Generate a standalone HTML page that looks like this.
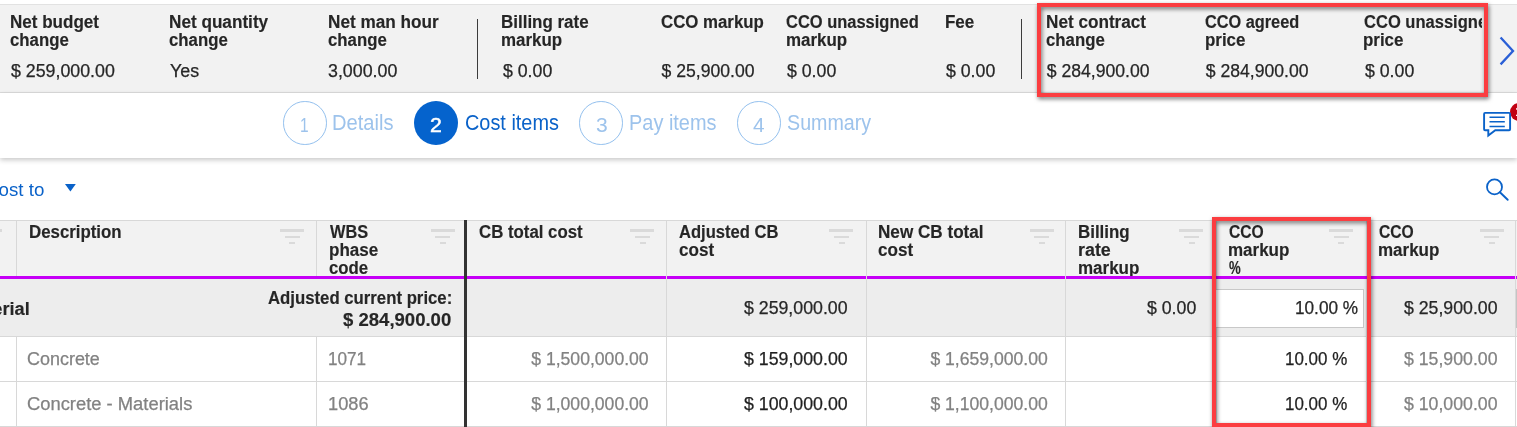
<!DOCTYPE html>
<html lang="en"><head><meta charset="utf-8"><title>Cost items</title>
<style>
html,body{margin:0;padding:0;background:#fff}
body{position:relative;width:1517px;height:427px;overflow:hidden;font-family:"Liberation Sans",Arial,sans-serif}
.t{position:absolute;white-space:nowrap;transform-origin:0 50%;display:block}
.a{position:absolute}
.f{position:absolute;height:3px;background:#dadada}
.cs{position:absolute;top:221px;width:1px;height:206px;background:#d8d8d8}
.hl{position:absolute;left:0;width:1517px;height:1px;background:#d8d8d8}
.red{position:absolute;border:4px solid #fb3d40;box-sizing:border-box;filter:drop-shadow(1.2px 2.4px 2.2px rgba(0,0,0,.55))}
</style></head><body>
<!-- summary panel -->
<div class="a" style="left:0;top:4px;width:1517px;height:89px;background:#f2f2f2;border-top:1px solid #e2e2e2;border-bottom:1px solid #dcdcdc;box-sizing:border-box"></div>
<div class="a" style="left:477px;top:19px;width:1px;height:59.5px;background:#3c3c3c"></div>
<div class="a" style="left:1021px;top:19px;width:1px;height:59.5px;background:#3c3c3c"></div>
<!-- stepper -->
<div class="a" style="left:0;top:93px;width:1517px;height:64.7px;background:#fff;box-shadow:0 2px 5px rgba(0,0,0,.22)"></div>
<div class="a" style="left:283.1px;top:101px;width:43.6px;height:43.6px;border-radius:50%;border:1px solid #93c0ee;box-sizing:border-box"></div>
<div class="a" style="left:414px;top:101px;width:43.8px;height:43.8px;border-radius:50%;background:#0563cd"></div>
<div class="a" style="left:579.1px;top:101px;width:43.6px;height:43.6px;border-radius:50%;border:1px solid #93c0ee;box-sizing:border-box"></div>
<div class="a" style="left:737px;top:101px;width:43.6px;height:43.6px;border-radius:50%;border:1px solid #93c0ee;box-sizing:border-box"></div>
<!-- chat icon -->
<div class="a" style="left:1509.9px;top:102.6px;width:18px;height:18px;border-radius:50%;background:#c20012"></div>
<span class="t" style="left:1515.2px;top:105px;font-size:12px;line-height:14px;color:#fff;font-weight:700">1</span>
<svg class="a" style="left:1480px;top:107.2px" width="37" height="34" viewBox="0 0 37 34">
<path d="M5.1 5.9H29.1a1 1 0 0 1 1 1V22.3a1 1 0 0 1 -1 1H15.3L8.3 28.6V23.3H5.1a1 1 0 0 1 -1 -1V6.9a1 1 0 0 1 1 -1z" fill="none" stroke="#0a62c9" stroke-width="1.9" stroke-linejoin="miter"/>
<path d="M9.5 10.2h15.3M9.5 14.8h15.3M9.5 19.5h15.3" stroke="#0a62c9" stroke-width="1.6"/>
</svg>
<!-- toolbar -->
<svg class="a" style="left:64px;top:183px" width="14" height="10" viewBox="0 0 14 10"><path d="M1 1h10.8L6.4 8.6z" fill="#0a62c9"/></svg>
<svg class="a" style="left:1482px;top:175.4px" width="30" height="28" viewBox="0 0 30 28"><circle cx="12.5" cy="11.9" r="7.5" fill="none" stroke="#0a62c9" stroke-width="1.8"/><path d="M17.9 17.3L25.7 24.8" stroke="#0a62c9" stroke-width="1.9" stroke-linecap="round" fill="none"/></svg>
<!-- table -->
<div class="a" style="left:0;top:220px;width:1517px;height:56px;background:#f2f2f2;border-top:1px solid #d8d8d8;box-sizing:border-box"></div>
<div class="a" style="left:0;top:278px;width:1517px;height:58px;background:#ededed"></div>
<div class="cs" style="left:666px"></div><div class="cs" style="left:866px"></div><div class="cs" style="left:1065px"></div><div class="cs" style="left:1216px"></div><div class="cs" style="left:1366px"></div><div class="cs" style="left:1515px"></div><div class="cs" style="left:16px;height:55px"></div><div class="cs" style="left:16px;top:337px;height:90px"></div><div class="cs" style="left:316px;height:55px"></div><div class="cs" style="left:316px;top:337px;height:90px"></div>
<div class="hl" style="top:336px"></div>
<div class="hl" style="top:381px"></div>
<div class="hl" style="top:426px"></div>
<div class="f" style="left:-21.7px;top:229.3px;width:24px;height:3.1px"></div><div class="f" style="left:-17.3px;top:235.5px;width:15.3px;height:2.8px"></div><div class="f" style="left:-12.6px;top:241.6px;width:6.1px;height:2.6px"></div><div class="f" style="left:280.3px;top:229.3px;width:24px;height:3.1px"></div><div class="f" style="left:284.7px;top:235.5px;width:15.3px;height:2.8px"></div><div class="f" style="left:289.4px;top:241.6px;width:6.1px;height:2.6px"></div><div class="f" style="left:430.6px;top:229.3px;width:24px;height:3.1px"></div><div class="f" style="left:435.0px;top:235.5px;width:15.3px;height:2.8px"></div><div class="f" style="left:439.7px;top:241.6px;width:6.1px;height:2.6px"></div><div class="f" style="left:630.4px;top:229.3px;width:24px;height:3.1px"></div><div class="f" style="left:634.8px;top:235.5px;width:15.3px;height:2.8px"></div><div class="f" style="left:639.5px;top:241.6px;width:6.1px;height:2.6px"></div><div class="f" style="left:829.4px;top:229.3px;width:24px;height:3.1px"></div><div class="f" style="left:833.8px;top:235.5px;width:15.3px;height:2.8px"></div><div class="f" style="left:838.5px;top:241.6px;width:6.1px;height:2.6px"></div><div class="f" style="left:1029.8px;top:229.3px;width:24px;height:3.1px"></div><div class="f" style="left:1034.2px;top:235.5px;width:15.3px;height:2.8px"></div><div class="f" style="left:1038.9px;top:241.6px;width:6.1px;height:2.6px"></div><div class="f" style="left:1179.4px;top:229.3px;width:24px;height:3.1px"></div><div class="f" style="left:1183.8px;top:235.5px;width:15.3px;height:2.8px"></div><div class="f" style="left:1188.5px;top:241.6px;width:6.1px;height:2.6px"></div><div class="f" style="left:1329.2px;top:229.3px;width:24px;height:3.1px"></div><div class="f" style="left:1333.6px;top:235.5px;width:15.3px;height:2.8px"></div><div class="f" style="left:1338.3px;top:241.6px;width:6.1px;height:2.6px"></div><div class="f" style="left:1479.8px;top:229.3px;width:24px;height:3.1px"></div><div class="f" style="left:1484.2px;top:235.5px;width:15.3px;height:2.8px"></div><div class="f" style="left:1488.9px;top:241.6px;width:6.1px;height:2.6px"></div>
<!-- group-row input -->
<div class="a" style="left:1215px;top:289px;width:149.4px;height:38.5px;background:#fff;border:1px solid #c8c8c8;box-sizing:border-box"></div>
<div class="a" style="left:1516px;top:289px;width:3px;height:38.5px;background:#fff;border:1px solid #c4c4c4;box-sizing:border-box"></div>
<div class="a" id="hdrclip" style="left:0;top:221px;width:1517px;height:54.6px;overflow:hidden"></div>
<div class="a" style="left:0;top:0;width:1482px;height:93px;overflow:hidden"><span class="t " style="left:9.89px;top:11.70px;font-size:17.6px;line-height:21px;color:#262626;font-weight:700;-webkit-text-stroke:0.15px #262626;transform:scaleX(0.9680);">Net budget</span><span class="t " style="left:10.37px;top:29.50px;font-size:17.6px;line-height:21px;color:#262626;font-weight:700;-webkit-text-stroke:0.15px #262626;transform:scaleX(0.9541);">change</span><span class="t " style="left:11.12px;top:60.50px;font-size:17.6px;line-height:21px;color:#262626;-webkit-text-stroke:0.25px #262626;transform:scaleX(1.0108);">$ 259,000.00</span><span class="t " style="left:168.98px;top:11.70px;font-size:17.6px;line-height:21px;color:#262626;font-weight:700;-webkit-text-stroke:0.15px #262626;transform:scaleX(0.9752);">Net quantity</span><span class="t " style="left:169.47px;top:29.50px;font-size:17.6px;line-height:21px;color:#262626;font-weight:700;-webkit-text-stroke:0.15px #262626;transform:scaleX(0.9541);">change</span><span class="t " style="left:170.04px;top:60.50px;font-size:17.6px;line-height:21px;color:#262626;-webkit-text-stroke:0.25px #262626;transform:scaleX(1.0157);">Yes</span><span class="t " style="left:327.68px;top:11.70px;font-size:17.6px;line-height:21px;color:#262626;font-weight:700;-webkit-text-stroke:0.15px #262626;transform:scaleX(0.9757);">Net man hour</span><span class="t " style="left:328.17px;top:29.50px;font-size:17.6px;line-height:21px;color:#262626;font-weight:700;-webkit-text-stroke:0.15px #262626;transform:scaleX(0.9541);">change</span><span class="t " style="left:328.43px;top:60.50px;font-size:17.6px;line-height:21px;color:#262626;-webkit-text-stroke:0.25px #262626;transform:scaleX(1.0121);">3,000.00</span><span class="t " style="left:501.40px;top:11.70px;font-size:17.6px;line-height:21px;color:#262626;font-weight:700;-webkit-text-stroke:0.15px #262626;transform:scaleX(0.9638);">Billing rate</span><span class="t " style="left:501.40px;top:29.50px;font-size:17.6px;line-height:21px;color:#262626;font-weight:700;-webkit-text-stroke:0.15px #262626;transform:scaleX(0.9622);">markup</span><span class="t " style="left:502.62px;top:60.50px;font-size:17.6px;line-height:21px;color:#262626;-webkit-text-stroke:0.25px #262626;transform:scaleX(1.0064);">$ 0.00</span><span class="t " style="left:660.83px;top:11.70px;font-size:17.6px;line-height:21px;color:#262626;font-weight:700;-webkit-text-stroke:0.15px #262626;transform:scaleX(0.9560);">CCO markup</span><span class="t " style="left:661.62px;top:60.50px;font-size:17.6px;line-height:21px;color:#262626;-webkit-text-stroke:0.25px #262626;">$ 25,900.00</span><span class="t " style="left:786.14px;top:11.70px;font-size:17.6px;line-height:21px;color:#262626;font-weight:700;-webkit-text-stroke:0.15px #262626;transform:scaleX(0.9362);">CCO unassigned</span><span class="t " style="left:785.70px;top:29.50px;font-size:17.6px;line-height:21px;color:#262626;font-weight:700;-webkit-text-stroke:0.15px #262626;transform:scaleX(0.9622);">markup</span><span class="t " style="left:786.92px;top:60.50px;font-size:17.6px;line-height:21px;color:#262626;-webkit-text-stroke:0.25px #262626;transform:scaleX(1.0064);">$ 0.00</span><span class="t " style="left:944.80px;top:11.70px;font-size:17.6px;line-height:21px;color:#262626;font-weight:700;-webkit-text-stroke:0.15px #262626;transform:scaleX(0.9650);">Fee</span><span class="t " style="left:946.02px;top:60.50px;font-size:17.6px;line-height:21px;color:#262626;-webkit-text-stroke:0.25px #262626;transform:scaleX(1.0064);">$ 0.00</span><span class="t " style="left:1045.59px;top:11.70px;font-size:17.6px;line-height:21px;color:#262626;font-weight:700;-webkit-text-stroke:0.15px #262626;transform:scaleX(0.9746);">Net contract</span><span class="t " style="left:1046.07px;top:29.50px;font-size:17.6px;line-height:21px;color:#262626;font-weight:700;-webkit-text-stroke:0.15px #262626;transform:scaleX(0.9541);">change</span><span class="t " style="left:1046.82px;top:60.50px;font-size:17.6px;line-height:21px;color:#262626;-webkit-text-stroke:0.25px #262626;">$ 284,900.00</span><span class="t " style="left:1204.95px;top:11.70px;font-size:17.6px;line-height:21px;color:#262626;font-weight:700;-webkit-text-stroke:0.15px #262626;transform:scaleX(0.9265);">CCO agreed</span><span class="t " style="left:1204.50px;top:29.50px;font-size:17.6px;line-height:21px;color:#262626;font-weight:700;-webkit-text-stroke:0.15px #262626;transform:scaleX(0.9616);">price</span><span class="t " style="left:1205.72px;top:60.50px;font-size:17.6px;line-height:21px;color:#262626;-webkit-text-stroke:0.25px #262626;">$ 284,900.00</span><span class="t " style="left:1363.84px;top:11.70px;font-size:17.6px;line-height:21px;color:#262626;font-weight:700;-webkit-text-stroke:0.15px #262626;transform:scaleX(0.9398);">CCO unassigned</span><span class="t " style="left:1363.40px;top:29.50px;font-size:17.6px;line-height:21px;color:#262626;font-weight:700;-webkit-text-stroke:0.15px #262626;transform:scaleX(0.9616);">price</span><span class="t " style="left:1364.62px;top:60.50px;font-size:17.6px;line-height:21px;color:#262626;-webkit-text-stroke:0.25px #262626;transform:scaleX(1.0064);">$ 0.00</span></div><span class="t " style="left:299.74px;top:113.27px;font-size:20px;line-height:24px;color:#9dc3ec;transform:scaleX(0.7746);">1</span><span class="t " style="left:331.59px;top:109.75px;font-size:21.5px;line-height:26px;color:#9dc3ec;transform:scaleX(0.9358);">Details</span><span class="t " style="left:430.44px;top:113.27px;font-size:20px;line-height:24px;color:#fff;-webkit-text-stroke:0.5px #fff;transform:scaleX(1.0601);">2</span><span class="t " style="left:464.61px;top:109.75px;font-size:21.5px;line-height:26px;color:#0a62c9;transform:scaleX(0.9247);">Cost items</span><span class="t " style="left:595.81px;top:113.27px;font-size:20px;line-height:24px;color:#9dc3ec;transform:scaleX(1.0526);">3</span><span class="t " style="left:628.61px;top:109.75px;font-size:21.5px;line-height:26px;color:#9dc3ec;transform:scaleX(0.9270);">Pay items</span><span class="t " style="left:753.03px;top:113.27px;font-size:20px;line-height:24px;color:#9dc3ec;transform:scaleX(1.0396);">4</span><span class="t " style="left:786.71px;top:109.75px;font-size:21.5px;line-height:26px;color:#9dc3ec;transform:scaleX(0.9154);">Summary</span><span class="t " style="left:-14.54px;top:179.19px;font-size:18.5px;line-height:22px;color:#0a62c9;transform:scaleX(1.0117);">Cost to</span><span class="t h" style="left:28.71px;top:222.10px;font-size:17.6px;line-height:21px;color:#262626;font-weight:700;-webkit-text-stroke:0.15px #262626;transform:scaleX(0.9567);">Description</span><span class="t h" style="left:329.90px;top:222.10px;font-size:17.6px;line-height:21px;color:#262626;font-weight:700;-webkit-text-stroke:0.15px #262626;transform:scaleX(0.9284);">WBS</span><span class="t h" style="left:328.79px;top:240.10px;font-size:17.6px;line-height:21px;color:#262626;font-weight:700;-webkit-text-stroke:0.15px #262626;transform:scaleX(0.9665);">phase</span><span class="t h" style="left:329.27px;top:258.10px;font-size:17.6px;line-height:21px;color:#262626;font-weight:700;-webkit-text-stroke:0.15px #262626;transform:scaleX(0.9543);">code</span><span class="t h" style="left:479.13px;top:222.10px;font-size:17.6px;line-height:21px;color:#262626;font-weight:700;-webkit-text-stroke:0.15px #262626;transform:scaleX(0.9548);">CB total cost</span><span class="t h" style="left:679.39px;top:222.10px;font-size:17.6px;line-height:21px;color:#262626;font-weight:700;-webkit-text-stroke:0.15px #262626;transform:scaleX(0.9419);">Adjusted CB</span><span class="t h" style="left:679.16px;top:240.10px;font-size:17.6px;line-height:21px;color:#262626;font-weight:700;-webkit-text-stroke:0.15px #262626;transform:scaleX(0.9708);">cost</span><span class="t h" style="left:877.99px;top:222.10px;font-size:17.6px;line-height:21px;color:#262626;font-weight:700;-webkit-text-stroke:0.15px #262626;transform:scaleX(0.9729);">New CB total</span><span class="t h" style="left:878.46px;top:240.10px;font-size:17.6px;line-height:21px;color:#262626;font-weight:700;-webkit-text-stroke:0.15px #262626;transform:scaleX(0.9708);">cost</span><span class="t h" style="left:1078.40px;top:222.10px;font-size:17.6px;line-height:21px;color:#262626;font-weight:700;-webkit-text-stroke:0.15px #262626;transform:scaleX(0.9615);">Billing</span><span class="t h" style="left:1078.34px;top:240.10px;font-size:17.6px;line-height:21px;color:#262626;font-weight:700;-webkit-text-stroke:0.15px #262626;transform:scaleX(1.0152);">rate</span><span class="t h" style="left:1078.40px;top:258.10px;font-size:17.6px;line-height:21px;color:#262626;font-weight:700;-webkit-text-stroke:0.15px #262626;transform:scaleX(0.9655);">markup</span><span class="t h" style="left:1228.67px;top:222.10px;font-size:17.6px;line-height:21px;color:#262626;font-weight:700;-webkit-text-stroke:0.15px #262626;transform:scaleX(0.8884);">CCO</span><span class="t h" style="left:1228.20px;top:240.10px;font-size:17.6px;line-height:21px;color:#262626;font-weight:700;-webkit-text-stroke:0.15px #262626;transform:scaleX(0.9655);">markup</span><span class="t h" style="left:1229.00px;top:258.10px;font-size:17.6px;line-height:21px;color:#262626;font-weight:700;-webkit-text-stroke:0.15px #262626;transform:scaleX(0.7486);">%</span><span class="t h" style="left:1378.67px;top:222.10px;font-size:17.6px;line-height:21px;color:#262626;font-weight:700;-webkit-text-stroke:0.15px #262626;transform:scaleX(0.8884);">CCO</span><span class="t h" style="left:1378.20px;top:240.10px;font-size:17.6px;line-height:21px;color:#262626;font-weight:700;-webkit-text-stroke:0.15px #262626;transform:scaleX(0.9655);">markup</span><span class="t " style="left:-38.58px;top:299.00px;font-size:17.6px;line-height:21px;color:#262626;font-weight:700;-webkit-text-stroke:0.15px #262626;transform:scaleX(1.0335);">Material</span><span class="t " style="left:267.68px;top:287.50px;font-size:17.6px;line-height:21px;color:#262626;font-weight:700;-webkit-text-stroke:0.15px #262626;transform:scaleX(0.9518);">Adjusted current price:</span><span class="t " style="left:342.87px;top:309.50px;font-size:17.6px;line-height:21px;color:#262626;font-weight:700;-webkit-text-stroke:0.15px #262626;transform:scaleX(1.0534);">$ 284,900.00</span><span class="t " style="left:743.52px;top:298.00px;font-size:17.6px;line-height:21px;color:#262626;-webkit-text-stroke:0.25px #262626;transform:scaleX(1.0078);">$ 259,000.00</span><span class="t " style="left:1147.32px;top:298.00px;font-size:17.6px;line-height:21px;color:#262626;-webkit-text-stroke:0.25px #262626;transform:scaleX(1.0064);">$ 0.00</span><span class="t " style="left:1294.81px;top:298.00px;font-size:17.6px;line-height:21px;color:#262626;-webkit-text-stroke:0.25px #262626;transform:scaleX(0.9768);">10.00 %</span><span class="t " style="left:1403.72px;top:298.00px;font-size:17.6px;line-height:21px;color:#262626;-webkit-text-stroke:0.25px #262626;transform:scaleX(1.0061);">$ 25,900.00</span><span class="t " style="left:27.20px;top:348.80px;font-size:17.6px;line-height:21px;color:#828282;-webkit-text-stroke:0.25px #828282;transform:scaleX(1.0203);">Concrete</span><span class="t " style="left:328.31px;top:348.80px;font-size:17.6px;line-height:21px;color:#828282;-webkit-text-stroke:0.25px #828282;transform:scaleX(0.9740);">1071</span><span class="t " style="left:531.22px;top:348.80px;font-size:17.6px;line-height:21px;color:#828282;-webkit-text-stroke:0.25px #828282;">$ 1,500,000.00</span><span class="t " style="left:744.42px;top:348.80px;font-size:17.6px;line-height:21px;color:#1f1f1f;-webkit-text-stroke:0.25px #1f1f1f;transform:scaleX(1.0088);">$ 159,000.00</span><span class="t " style="left:930.42px;top:348.80px;font-size:17.6px;line-height:21px;color:#828282;-webkit-text-stroke:0.25px #828282;">$ 1,659,000.00</span><span class="t " style="left:1285.13px;top:348.80px;font-size:17.6px;line-height:21px;color:#1f1f1f;-webkit-text-stroke:0.25px #1f1f1f;transform:scaleX(0.9640);">10.00 %</span><span class="t " style="left:1404.12px;top:348.80px;font-size:17.6px;line-height:21px;color:#828282;-webkit-text-stroke:0.25px #828282;transform:scaleX(1.0061);">$ 15,900.00</span><span class="t " style="left:27.18px;top:393.60px;font-size:17.6px;line-height:21px;color:#828282;-webkit-text-stroke:0.25px #828282;transform:scaleX(1.0437);">Concrete - Materials</span><span class="t " style="left:328.23px;top:393.60px;font-size:17.6px;line-height:21px;color:#828282;-webkit-text-stroke:0.25px #828282;transform:scaleX(1.0365);">1086</span><span class="t " style="left:531.22px;top:393.60px;font-size:17.6px;line-height:21px;color:#828282;-webkit-text-stroke:0.25px #828282;">$ 1,000,000.00</span><span class="t " style="left:744.42px;top:393.60px;font-size:17.6px;line-height:21px;color:#1f1f1f;-webkit-text-stroke:0.25px #1f1f1f;transform:scaleX(1.0088);">$ 100,000.00</span><span class="t " style="left:930.42px;top:393.60px;font-size:17.6px;line-height:21px;color:#828282;-webkit-text-stroke:0.25px #828282;">$ 1,100,000.00</span><span class="t " style="left:1285.13px;top:393.60px;font-size:17.6px;line-height:21px;color:#1f1f1f;-webkit-text-stroke:0.25px #1f1f1f;transform:scaleX(0.9640);">10.00 %</span><span class="t " style="left:1404.12px;top:393.60px;font-size:17.6px;line-height:21px;color:#828282;-webkit-text-stroke:0.25px #828282;transform:scaleX(1.0061);">$ 10,000.00</span>
<!-- purple line -->
<div class="a" style="left:0;top:275.6px;width:1517px;height:3.4px;background:#c600f7"></div>
<div class="a" style="left:666px;top:275px;width:1px;height:5px;background:#dcdcdc"></div>
<div class="a" style="left:866px;top:275px;width:1px;height:5px;background:#dcdcdc"></div>
<div class="a" style="left:1065px;top:275px;width:1px;height:5px;background:#dcdcdc"></div>
<div class="a" style="left:1515px;top:275px;width:1px;height:5px;background:#dcdcdc"></div>
<div class="a" style="left:464px;top:220px;width:3.1px;height:207px;background:#333"></div>
<!-- chevron -->
<svg class="a" style="left:1496.2px;top:33px" width="22" height="36" viewBox="0 0 22 36"><path d="M4.6 4.4L17 18 4.6 31.4" fill="none" stroke="#2a5fd6" stroke-width="2.3"/></svg>
<!-- annotation boxes -->
<div class="red" style="left:1037px;top:3px;width:451px;height:94px"></div>
<div class="red" style="left:1212px;top:217px;width:159px;height:210px"></div>
</body></html>
